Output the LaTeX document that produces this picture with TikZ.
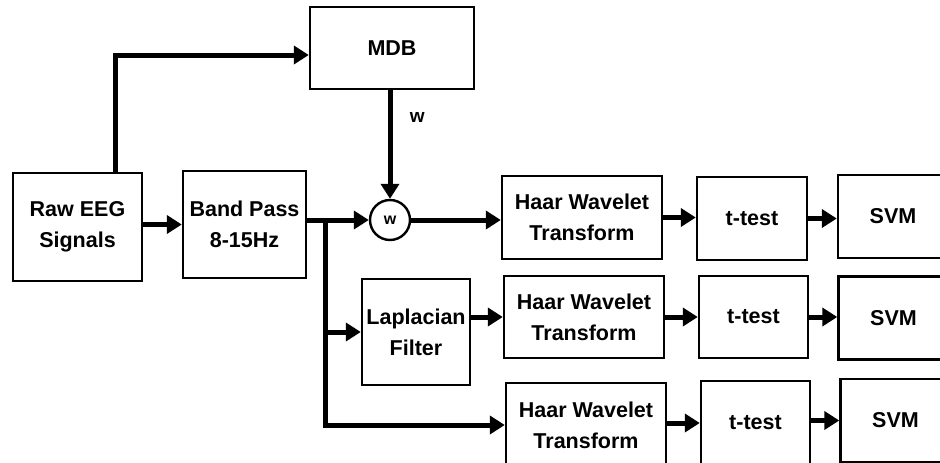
\documentclass[tikz,border=0pt]{standalone}
\usepackage{fontspec}
\setmainfont{Liberation Sans}
\usetikzlibrary{arrows.meta,positioning}
\begin{document}
\begin{tikzpicture}[x=1pt, y=-1pt,
    block/.style={draw, line width=2.4pt, align=center, inner sep=0pt,
      font=\fontsize{21.5}{31}\selectfont\bfseries},
    flow/.style={line width=5pt, -{Triangle[length=15pt,width=18pt]}}]
    \useasboundingbox (0,0) rectangle (940,463);
    \clip (0,0) rectangle (940,463);
    % Input and band pass
    \node[block, minimum width=129pt, minimum height=108pt] (raw) at (77.5,227) {Raw EEG\\Signals};
    \node[block, minimum width=123pt, minimum height=107pt] (band) at (244.5,224.5) {Band Pass\\8-15Hz};
    \node[block, minimum width=164pt, minimum height=82pt] (mdb) at (392,48) {MDB};
    \node[draw, circle, line width=2.4pt, minimum size=40pt, inner sep=0pt,
      font=\fontsize{16}{18}\selectfont\bfseries] (circ) at (390,220) {w};
    \node[block, minimum width=108pt, minimum height=106pt] (lap) at (416,332) {Laplacian\\Filter};
    % Row 1
    \node[block, minimum width=160pt, minimum height=83pt] (haar1) at (582,217.5) {Haar Wavelet\\Transform};
    \node[block, minimum width=110pt, minimum height=83pt] (tt1) at (752,218.5) {t-test};
    \node[block, minimum width=110pt, minimum height=83pt] (svm1) at (893,216.5) {SVM};
    % Row 2
    \node[block, minimum width=160pt, minimum height=82pt] (haar2) at (584,317) {Haar Wavelet\\Transform};
    \node[block, minimum width=109pt, minimum height=82pt] (tt2) at (753.5,317) {t-test};
    \node[block, minimum width=110pt, minimum height=83pt] (svm2) at (893.5,318) {SVM};
    % Row 3
    \node[block, minimum width=160pt, minimum height=84pt] (haar3) at (586,425) {Haar Wavelet\\Transform};
    \node[block, minimum width=109pt, minimum height=84pt] (tt3) at (755.5,423) {t-test};
    \node[block, minimum width=110pt, minimum height=83pt] (svm3) at (895.5,420.5) {SVM};
    % Connectors
    \coordinate (split) at (325,221);
    \draw[flow] (raw.east |- band.west) -- (band.west);
    \draw[flow] ([xshift=37.5pt]raw.north) |- ([yshift=-7pt]mdb.west);
    \draw[flow] (mdb.south -| circ.north) -- (circ.north)
      node[pos=0.25, right=14pt, font=\fontsize{19}{21}\selectfont\bfseries] {w};
    \draw[flow] (band.east |- circ.west) -- (circ.west);
    \draw[flow] (split) |- (haar3.west);
    \draw[flow] (split |- lap.west) -- (lap.west);
    \draw[flow] (circ.east) -- (circ.east -| haar1.west);
    \draw[flow] (lap.east |- haar2.west) -- (haar2.west);
    \draw[flow] (haar1.east) -- (haar1.east -| tt1.west);
    \draw[flow] (tt1.east) -- (tt1.east -| svm1.west);
    \draw[flow] (haar2.east) -- (haar2.east -| tt2.west);
    \draw[flow] (tt2.east) -- (tt2.east -| svm2.west);
    \draw[flow] (haar3.east |- tt3.west) -- (tt3.west);
    \draw[flow] (tt3.east |- svm3.west) -- (svm3.west);
  \end{tikzpicture}
\end{document}
